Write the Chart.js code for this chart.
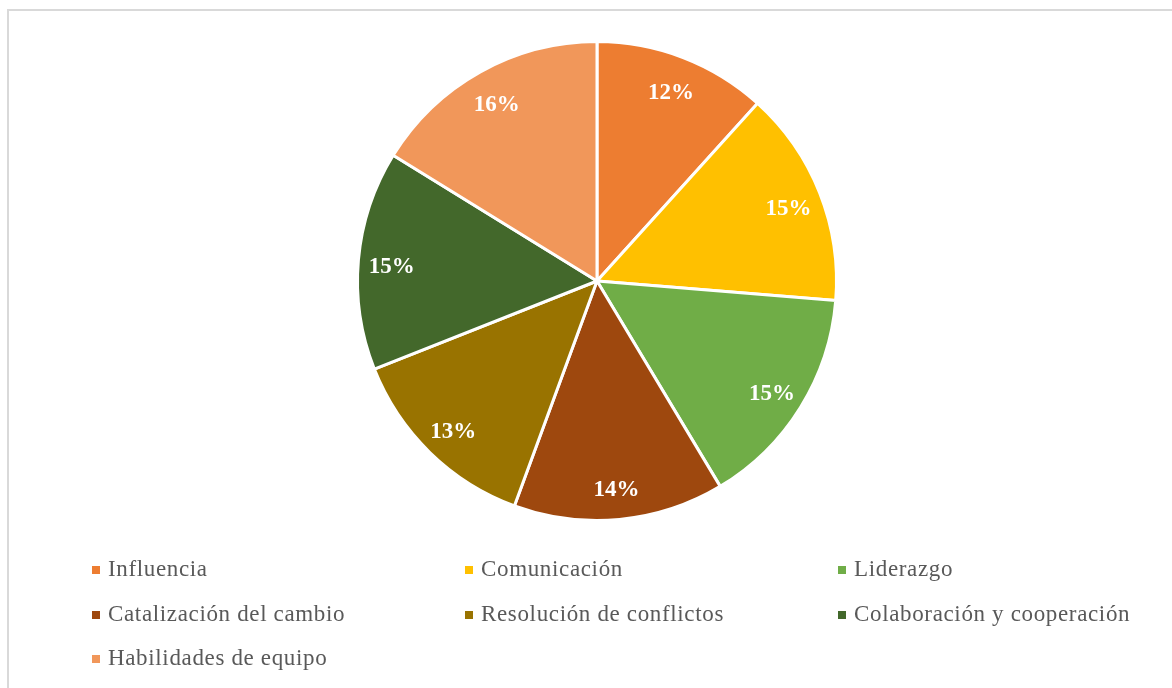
<!DOCTYPE html>
<html>
<head>
<meta charset="utf-8">
<script src="https://cdn.jsdelivr.net/npm/chart.js@4.4.0/dist/chart.umd.min.js"></script>
<style>
    body { margin: 0; background: #fff; width: 1172px; height: 688px; overflow: hidden; position: relative; }
    .frame { position: absolute; left: 7px; top: 9px; width: 1200px; height: 720px; border: 2px solid #d9d9d9; }
    #chartBox { position: absolute; left: 0; top: 0; width: 1172px; height: 688px; }
    .legend { position: absolute; left: 92px; top: 547px; display: grid; grid-template-columns: 373px 373px 373px; row-gap: 0; font-family: "Liberation Serif", serif; font-size: 23px; color: #595959; letter-spacing: 0.65px; }
    .legend div { height: 44.5px; display: flex; align-items: center; white-space: nowrap; }
    .legend span.box { display: inline-block; width: 8px; height: 8px; margin-right: 8px; margin-top: 2px; }
</style>
</head>
<body>
<div class="frame"></div>
<div id="chartBox"><canvas id="pieChart"></canvas></div>
<div class="legend" id="legend"></div>
<script>
var categories = ['Influencia', 'Comunicación', 'Liderazgo', 'Catalización del cambio', 'Resolución de conflictos', 'Colaboración y cooperación', 'Habilidades de equipo'];
var values = [11.7, 14.6, 15.1, 14.2, 13.4, 14.8, 16.2];
var colors = ['#ED7D31', '#FFC000', '#70AD47', '#9E480E', '#997300', '#43682B', '#F1975A'];

// porcentajes dentro de cada porcion
var pctLabels = {
    id: 'pctLabels',
    afterDatasetsDraw: function (chart) {
        var ctx = chart.ctx;
        var meta = chart.getDatasetMeta(0);
        var data = chart.data.datasets[0].data;
        var total = data.reduce(function (a, b) { return a + b; }, 0);
        ctx.save();
        ctx.font = 'bold 23px "Liberation Serif", serif';
        ctx.fillStyle = '#ffffff';
        ctx.textAlign = 'center';
        ctx.textBaseline = 'middle';
        meta.data.forEach(function (arc, i) {
            var p = arc.getProps(['x', 'y', 'startAngle', 'endAngle', 'outerRadius'], true);
            var mid = (p.startAngle + p.endAngle) / 2;
            var r = p.outerRadius * 0.86;
            var pct = Math.round(data[i] / total * 100) + '%';
            ctx.fillText(pct, p.x + Math.cos(mid) * r, p.y + Math.sin(mid) * r + 4);
        });
        ctx.restore();
    }
};

document.addEventListener('DOMContentLoaded', function () {
    new Chart(document.getElementById('pieChart'), {
        type: 'pie',
        data: {
            labels: categories,
            datasets: [{
                data: values,
                backgroundColor: colors,
                borderColor: '#ffffff',
                borderWidth: 3
            }]
        },
        options: {
            responsive: true,
            maintainAspectRatio: false,
            animation: false,
            layout: { padding: { top: 40, bottom: 166, left: 356, right: 334 } },
            plugins: {
                legend: { display: false },
                tooltip: { enabled: false }
            }
        },
        plugins: [pctLabels]
    });

    var legend = document.getElementById('legend');
    categories.forEach(function (name, i) {
        var item = document.createElement('div');
        item.innerHTML = '<span class="box" style="background:' + colors[i] + '"></span>' + name;
        legend.appendChild(item);
    });
});
</script>
</body>
</html>
